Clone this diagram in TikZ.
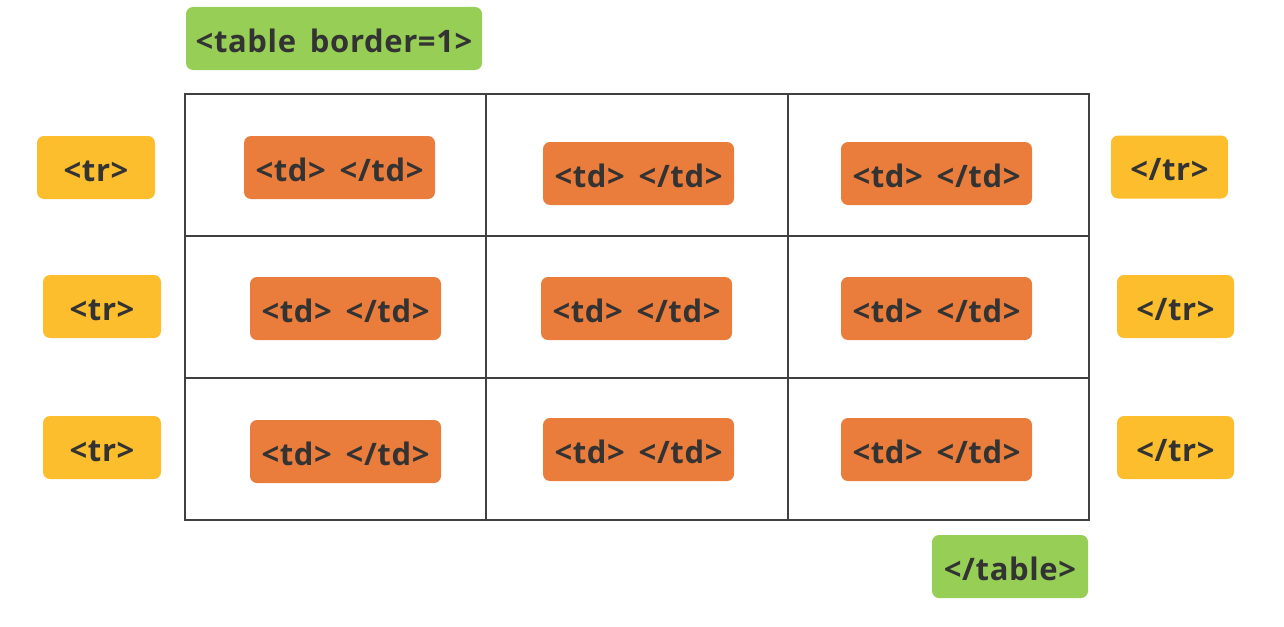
\documentclass[tikz,border=0pt]{standalone}
\usepackage{fontspec}
\setmainfont{Open Sans}
\newfontfamily\tagfont{Open Sans}[LetterSpace=2,WordSpace=1.6]
\usepackage{tikz}

\definecolor{tagtext}{HTML}{333333}
\definecolor{tablegreen}{HTML}{96CE56}
\definecolor{rowyellow}{HTML}{FCBE2D}
\definecolor{cellorange}{HTML}{EA7D3C}
\definecolor{gridgray}{HTML}{404040}

\tikzset{
  tag/.style={rounded corners=7pt, text=tagtext, inner sep=0pt,
    font=\fontsize{31}{35}\tagfont\bfseries,
    text height=27.5pt, text depth=0pt, minimum height=63pt},
  tabletag/.style={tag, fill=tablegreen},
  rowtag/.style={tag, fill=rowyellow, minimum width=118pt},
  celltag/.style={tag, fill=cellorange, minimum width=191pt},
  grid line/.style={draw=gridgray, line width=2pt}
}

\begin{document}
\begin{tikzpicture}[x=1pt,y=-1pt]
	\useasboundingbox (0,0) rectangle (1284,626);

	% the table
	\coordinate (tl) at (185,94);
	\coordinate (br) at (1089,520);
	\draw[grid line] (tl) rectangle (br);
	\draw[grid line] (486,94) -- (486,520)
	                 (788,94) -- (788,520)
	                 (185,236) -- (1089,236)
	                 (185,378) -- (1089,378);

	\node[tabletag, minimum width=296pt] (t_open) at (334,38.5) {<table border=1>};
	\node[tabletag, minimum width=156pt] (t_close) at (1010,566.5) {</table>};

	% rows
	\node[rowtag] (tr_1) at (96,167.5) {<tr>};
	\node[rowtag] (tr_2) at (102,306.5) {<tr>};
	\node[rowtag] (tr_3) at (102,447.5) {<tr>};
	\node[rowtag, minimum width=117pt] (etr_1) at (1169.5,167) {</tr>};
	\node[rowtag, minimum width=117pt] (etr_2) at (1175.5,306.5) {</tr>};
	\node[rowtag, minimum width=117pt] (etr_3) at (1175.5,447.5) {</tr>};

	% cells
	\node[celltag] (td_11) at (339.5,167.5) {<td> </td>};
	\node[celltag] (td_12) at (638.5,173.5) {<td> </td>};
	\node[celltag] (td_13) at (936.5,173.5) {<td> </td>};
	\node[celltag] (td_21) at (345.5,308.5) {<td> </td>};
	\node[celltag] (td_22) at (636.5,308.5) {<td> </td>};
	\node[celltag] (td_23) at (936.5,308.5) {<td> </td>};
	\node[celltag] (td_31) at (345.5,451.5) {<td> </td>};
	\node[celltag] (td_32) at (638.5,449.5) {<td> </td>};
	\node[celltag] (td_33) at (936.5,449.5) {<td> </td>};
\end{tikzpicture}
\end{document}
